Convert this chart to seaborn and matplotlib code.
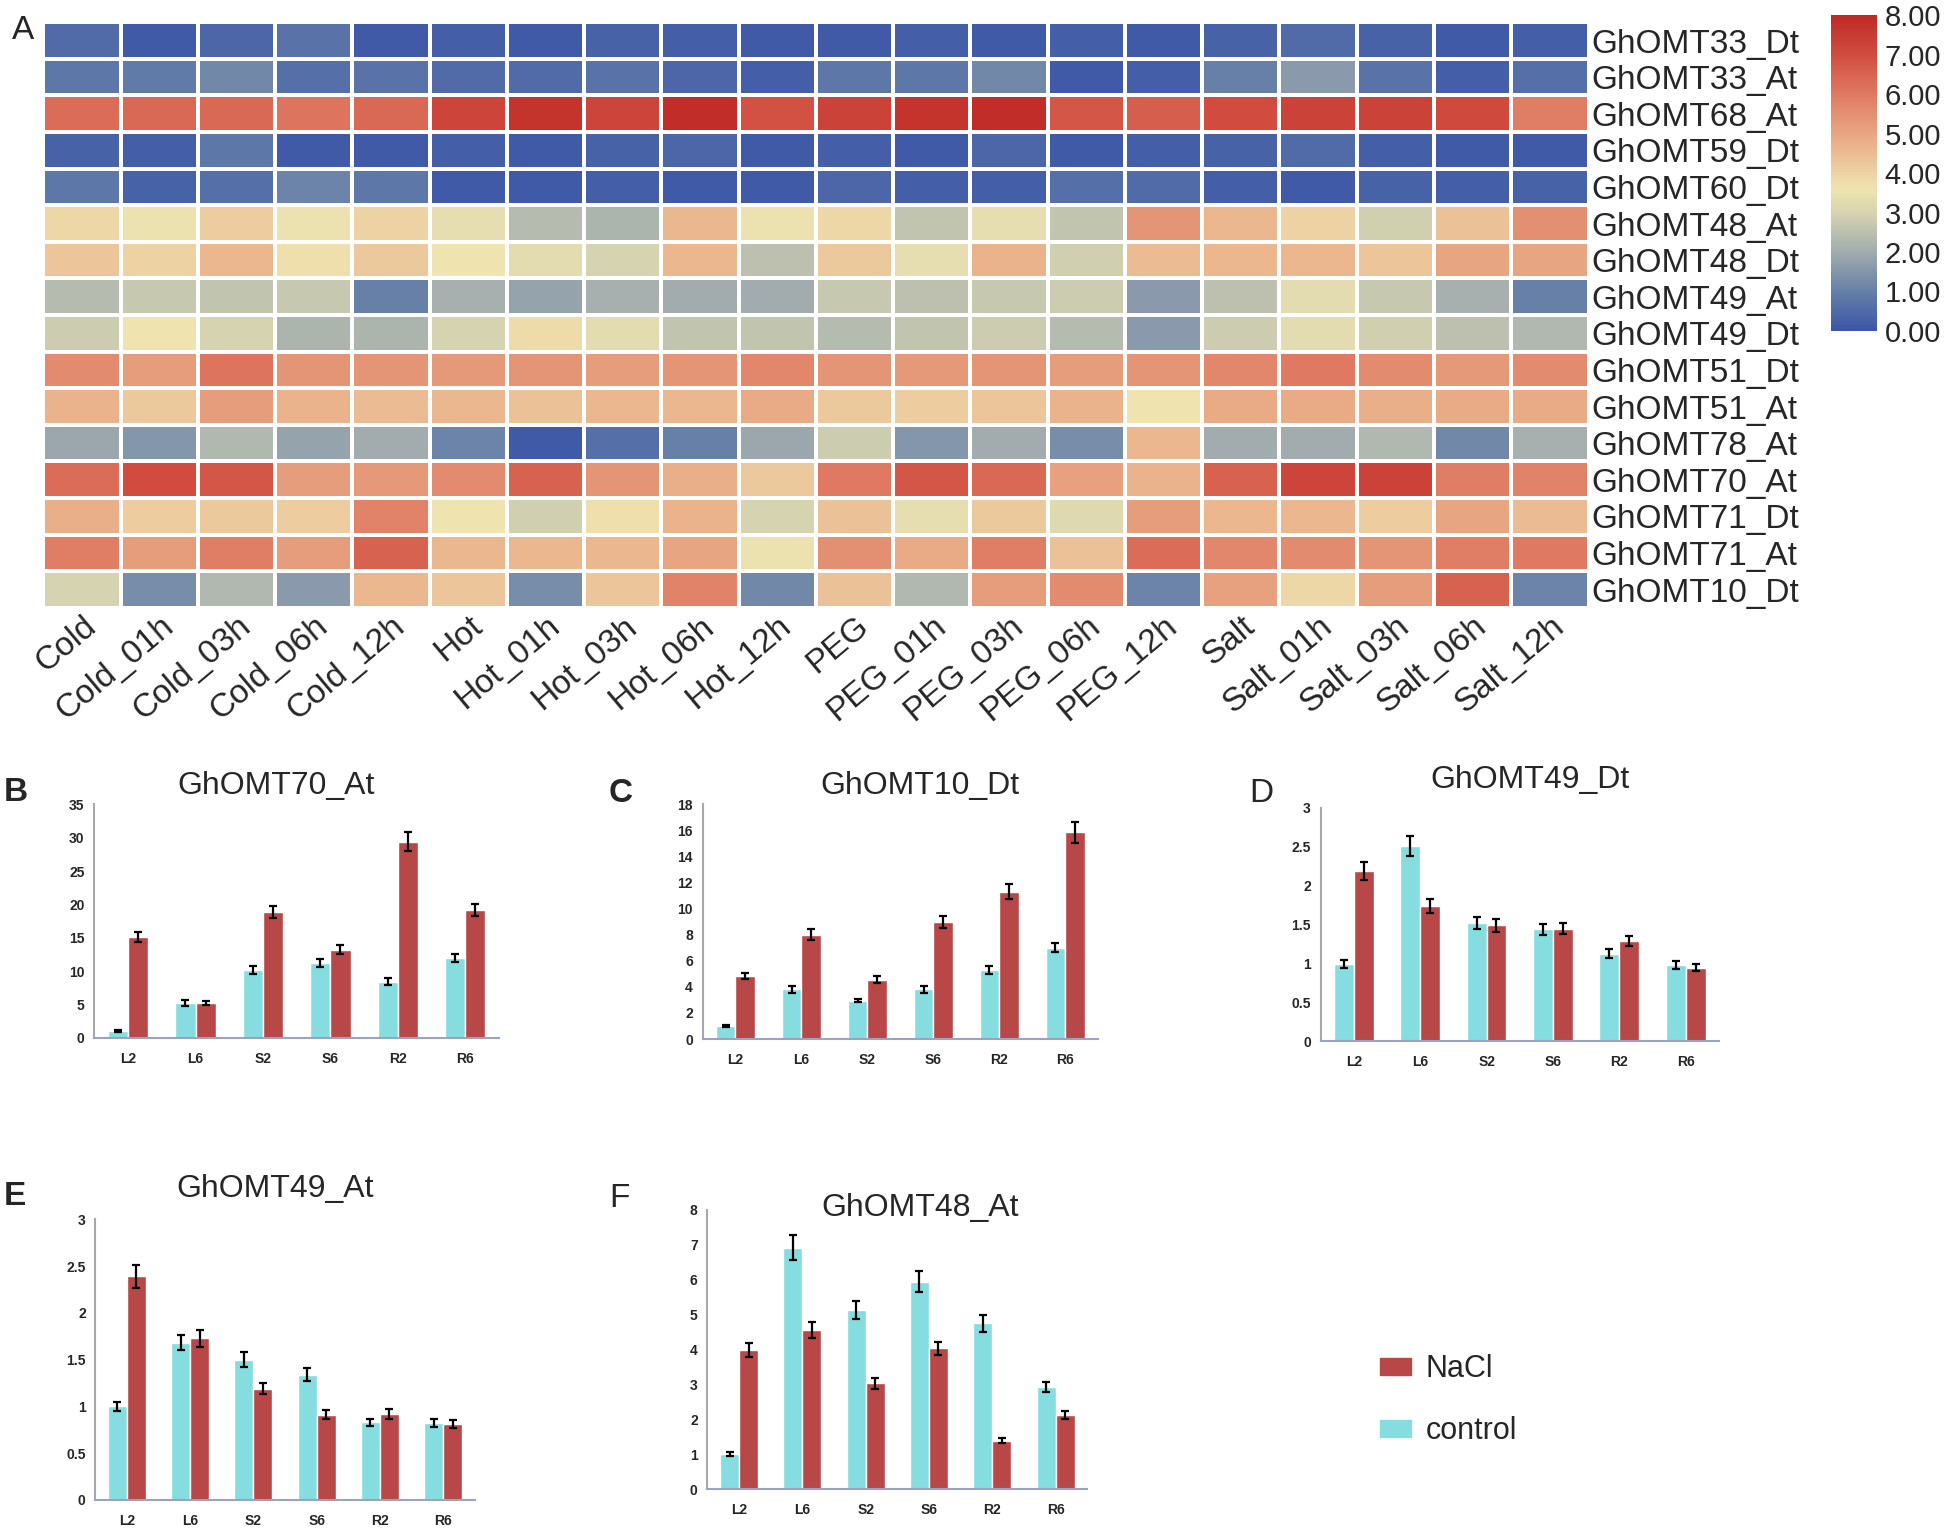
import numpy as np
import pandas as pd
import matplotlib
matplotlib.use("Agg")
import matplotlib.pyplot as plt
from matplotlib.colors import LinearSegmentedColormap
from matplotlib.patches import Patch
import seaborn as sns

# ---- heatmap data ----
conditions = ["Cold", "Cold_01h", "Cold_03h", "Cold_06h", "Cold_12h",
              "Hot", "Hot_01h", "Hot_03h", "Hot_06h", "Hot_12h",
              "PEG", "PEG_01h", "PEG_03h", "PEG_06h", "PEG_12h",
              "Salt", "Salt_01h", "Salt_03h", "Salt_06h", "Salt_12h"]
genes = ["GhOMT33_Dt", "GhOMT33_At", "GhOMT68_At", "GhOMT59_Dt", "GhOMT60_Dt",
         "GhOMT48_At", "GhOMT48_Dt", "GhOMT49_At", "GhOMT49_Dt", "GhOMT51_Dt",
         "GhOMT51_At", "GhOMT78_At", "GhOMT70_At", "GhOMT71_Dt", "GhOMT71_At",
         "GhOMT10_Dt"]
expr = [
    [0.5, 0.1, 0.4, 0.7, 0.1, 0.2, 0.1, 0.3, 0.2, 0.1, 0.1, 0.2, 0.1, 0.2, 0.1, 0.3, 0.5, 0.3, 0.1, 0.2],
    [0.8, 0.9, 1.2, 0.6, 0.7, 0.5, 0.5, 0.7, 0.4, 0.2, 0.8, 0.8, 1.2, 0.1, 0.2, 1.0, 1.6, 0.7, 0.2, 0.6],
    [6.3, 6.4, 6.4, 6.1, 6.4, 7.2, 7.7, 7.2, 7.9, 6.9, 7.3, 7.7, 7.9, 6.8, 6.6, 7.0, 7.3, 7.3, 7.1, 5.9],
    [0.3, 0.2, 0.8, 0.1, 0.1, 0.2, 0.1, 0.3, 0.4, 0.1, 0.2, 0.1, 0.4, 0.1, 0.2, 0.3, 0.5, 0.2, 0.1, 0.1],
    [0.8, 0.3, 0.6, 1.1, 0.8, 0.1, 0.1, 0.2, 0.1, 0.1, 0.4, 0.2, 0.2, 0.6, 0.5, 0.2, 0.1, 0.3, 0.2, 0.3],
    [3.9, 3.5, 4.1, 3.5, 4.0, 3.4, 2.4, 2.2, 4.6, 3.5, 3.9, 2.6, 3.4, 2.6, 5.4, 4.6, 4.0, 2.9, 4.4, 5.5],
    [4.3, 4.0, 4.6, 3.7, 4.2, 3.6, 3.3, 3.0, 4.6, 2.5, 4.2, 3.4, 4.7, 2.9, 4.5, 4.6, 4.6, 4.3, 5.0, 5.0],
    [2.4, 2.7, 2.6, 2.7, 1.0, 2.1, 1.8, 2.1, 2.0, 2.0, 2.7, 2.5, 2.7, 2.8, 1.6, 2.5, 3.3, 2.7, 2.1, 1.0],
    [2.8, 3.6, 3.0, 2.2, 2.2, 3.0, 3.8, 3.3, 2.6, 2.6, 2.4, 2.6, 2.8, 2.4, 1.6, 2.8, 3.3, 2.9, 2.5, 2.3],
    [5.6, 5.2, 6.1, 5.4, 5.4, 5.3, 5.4, 5.2, 5.4, 5.7, 5.4, 5.3, 5.4, 5.2, 5.4, 5.7, 6.0, 5.6, 5.3, 5.6],
    [4.7, 4.2, 5.2, 4.7, 4.5, 4.6, 4.4, 4.6, 4.6, 4.9, 4.2, 4.1, 4.3, 4.7, 3.6, 4.9, 4.9, 4.8, 4.9, 4.9],
    [1.9, 1.5, 2.3, 1.8, 2.0, 1.1, 0.1, 0.6, 1.0, 1.9, 2.8, 1.5, 2.0, 1.3, 4.6, 2.0, 2.0, 2.3, 1.2, 2.1],
    [6.3, 7.0, 6.8, 5.2, 5.3, 5.6, 6.5, 5.4, 4.8, 4.2, 6.0, 6.8, 6.4, 5.1, 4.7, 6.5, 7.2, 7.3, 5.9, 5.8],
    [4.8, 4.1, 4.2, 4.1, 5.8, 3.6, 2.9, 3.7, 4.7, 3.0, 4.4, 3.4, 4.2, 3.2, 5.2, 4.6, 4.6, 4.1, 5.0, 4.5],
    [5.9, 5.2, 5.9, 5.2, 6.5, 4.6, 4.6, 4.6, 5.0, 3.5, 5.5, 4.9, 5.9, 4.4, 6.3, 5.7, 5.6, 5.4, 5.9, 6.0],
    [3.0, 1.3, 2.3, 1.6, 4.6, 4.3, 1.3, 4.3, 5.8, 1.2, 4.4, 2.3, 5.2, 5.6, 1.1, 5.1, 3.9, 5.2, 6.5, 1.1],
]

# ---- qRT-PCR bar data ----
tissues = ["L2", "L6", "S2", "S6", "R2", "R6"]

omt70_ctrl = [1.0, 5.2, 10.1, 11.2, 8.4, 12.0]
omt70_ctrl_err = [0.15, 0.4, 0.6, 0.6, 0.5, 0.6]
omt70_nacl = [15.1, 5.2, 18.9, 13.2, 29.4, 19.1]
omt70_nacl_err = [0.7, 0.3, 0.9, 0.7, 1.4, 0.9]

omt10_ctrl = [1.0, 3.8, 2.95, 3.8, 5.3, 7.0]
omt10_ctrl_err = [0.05, 0.25, 0.15, 0.25, 0.3, 0.35]
omt10_nacl = [4.85, 8.0, 4.55, 9.0, 11.3, 15.85]
omt10_nacl_err = [0.25, 0.4, 0.25, 0.45, 0.55, 0.8]

omt49d_ctrl = [1.0, 2.51, 1.52, 1.44, 1.13, 0.98]
omt49d_ctrl_err = [0.05, 0.13, 0.08, 0.07, 0.06, 0.05]
omt49d_nacl = [2.19, 1.74, 1.49, 1.45, 1.29, 0.95]
omt49d_nacl_err = [0.11, 0.09, 0.08, 0.07, 0.06, 0.05]

omt49a_ctrl = [1.0, 1.68, 1.5, 1.34, 0.83, 0.82]
omt49a_ctrl_err = [0.05, 0.08, 0.08, 0.07, 0.04, 0.04]
omt49a_nacl = [2.39, 1.73, 1.19, 0.91, 0.92, 0.81]
omt49a_nacl_err = [0.12, 0.09, 0.06, 0.05, 0.05, 0.04]

omt48_ctrl = [1.0, 6.92, 5.13, 5.95, 4.75, 2.93]
omt48_ctrl_err = [0.05, 0.35, 0.25, 0.3, 0.24, 0.15]
omt48_nacl = [3.98, 4.55, 3.03, 4.03, 1.39, 2.12]
omt48_nacl_err = [0.2, 0.23, 0.15, 0.2, 0.07, 0.11]

sns.set_theme(style="white")
plt.rcParams["font.family"] = ["Liberation Sans", "DejaVu Sans"]

ctrl_color = "#86dde0"
nacl_color = "#b84747"

fig = plt.figure(figsize=(19.46, 15.32), dpi=100)

# ---- A: heatmap ----
cmap = LinearSegmentedColormap.from_list("expr", [
    (0.0, "#3c56a8"), (1 / 8, "#6680a8"), (2 / 8, "#a2acae"), (3 / 8, "#d6d4b0"),
    (3.6 / 8, "#efe4b0"), (4.3 / 8, "#ecc59a"), (5 / 8, "#e8a682"),
    (6 / 8, "#df7a62"), (7 / 8, "#d14d40"), (1.0, "#bf2a26")])

df_heat = pd.DataFrame(expr, index=genes, columns=conditions)
ax_h = fig.add_axes([0.0223, 0.6032, 0.794, 0.3823])
cax = fig.add_axes([0.9407, 0.784, 0.0236, 0.206])
sns.heatmap(df_heat, ax=ax_h, cbar_ax=cax, cmap=cmap, vmin=0, vmax=8,
            linewidths=1.5, linecolor="white",
            cbar_kws={"ticks": np.arange(0, 9, 1), "format": "%.2f"})
ax_h.yaxis.tick_right()
ax_h.set_yticklabels(genes, rotation=0, fontsize=24)
ax_h.set_xticklabels(conditions, rotation=40, ha="right", rotation_mode="anchor", fontsize=24)
ax_h.tick_params(length=0, pad=2)
ax_h.set_xlabel("")
ax_h.set_ylabel("")
cax.tick_params(length=0, labelsize=21, pad=6)
ax_h.collections[0].colorbar.outline.set_visible(False)
fig.text(0.006, 0.99, "A", fontsize=24, va="top")


# ---- bar panels ----
def bar_panel(rect, ctrl, ctrl_err, nacl, nacl_err, title, ymax, ystep, title_x, title_y):
    ax = fig.add_axes(rect)
    df = pd.DataFrame({
        "tissue": tissues * 2,
        "value": ctrl + nacl,
        "err": ctrl_err + nacl_err,
        "group": ["control"] * 6 + ["NaCl"] * 6,
    })
    sns.barplot(data=df, x="tissue", y="value", hue="group", hue_order=["control", "NaCl"],
                palette=[ctrl_color, nacl_color], width=0.6, errorbar=None,
                saturation=1, ax=ax, legend=False)
    # error bars at the centre of each bar drawn by seaborn
    bars = ax.patches[:12]
    xs = [b.get_x() + b.get_width() / 2 for b in bars]
    ys = [b.get_height() for b in bars]
    ax.errorbar(xs, ys, yerr=df["err"], fmt="none", ecolor="black", elinewidth=1.6,
                capsize=3, capthick=1.6)
    ax.set_ylim(0, ymax)
    ax.set_yticks(np.arange(0, ymax + ystep / 2, ystep))
    ax.set_yticklabels([f"{v:g}" for v in np.arange(0, ymax + ystep / 2, ystep)])
    ax.set_xlim(-0.5, 5.5)
    ax.set_xticks(np.arange(-0.5, 6, 1), minor=True)
    ax.tick_params(axis="x", which="major", length=0, labelsize=10, pad=10)
    ax.tick_params(axis="x", which="minor", length=4, color="#8f9ab8", width=1.2)
    ax.tick_params(axis="y", length=4, color="#a0a0a0", labelsize=10, width=1.2, pad=3)
    for lab in ax.get_xticklabels() + ax.get_yticklabels():
        lab.set_fontweight("bold")
    ax.set_xlabel("")
    ax.set_ylabel("")
    for s in ["top", "right"]:
        ax.spines[s].set_visible(False)
    ax.spines["left"].set_color("#a8a8a8")
    ax.spines["left"].set_linewidth(1.5)
    ax.spines["bottom"].set_color("#9aa3c4")
    ax.spines["bottom"].set_linewidth(1.5)
    ax.set_title(title, fontsize=23, x=title_x, y=title_y)
    return ax


bar_panel([0.0485, 0.3226, 0.2079, 0.1524], omt70_ctrl, omt70_ctrl_err, omt70_nacl, omt70_nacl_err,
          "GhOMT70_At", 35, 5, 0.448, 1.008)
bar_panel([0.361, 0.3218, 0.2034, 0.1532], omt10_ctrl, omt10_ctrl_err, omt10_nacl, omt10_nacl_err,
          "GhOMT10_Dt", 18, 2, 0.549, 1.008)
bar_panel([0.6786, 0.3202, 0.2047, 0.1524], omt49d_ctrl, omt49d_ctrl_err, omt49d_nacl, omt49d_nacl_err,
          "GhOMT49_Dt", 3, 0.5, 0.526, 1.05)
bar_panel([0.049, 0.021, 0.195, 0.183], omt49a_ctrl, omt49a_ctrl_err, omt49a_nacl, omt49a_nacl_err,
          "GhOMT49_At", 3, 0.5, 0.474, 1.05)
bar_panel([0.3635, 0.028, 0.1952, 0.1822], omt48_ctrl, omt48_ctrl_err, omt48_nacl, omt48_nacl_err,
          "GhOMT48_At", 8, 1, 0.559, 0.95)

# panel letters
for letter, x, y, w in [("B", 0.002, 0.483, "bold"), ("C", 0.313, 0.482, "bold"),
                        ("D", 0.642, 0.482, "normal"), ("E", 0.002, 0.219, "bold"),
                        ("F", 0.313, 0.218, "normal")]:
    fig.text(x, y, letter, fontsize=24, va="center", fontweight=w)

# legend
handles = [Patch(color=nacl_color, label="NaCl"), Patch(color=ctrl_color, label="control")]
fig.legend(handles=handles, loc="upper left", bbox_to_anchor=(0.695, 0.134), frameon=False,
           fontsize=22, handlelength=1.0, handleheight=0.5, labelspacing=1.05, handletextpad=0.5)

plt.savefig("out.png", dpi=100)
